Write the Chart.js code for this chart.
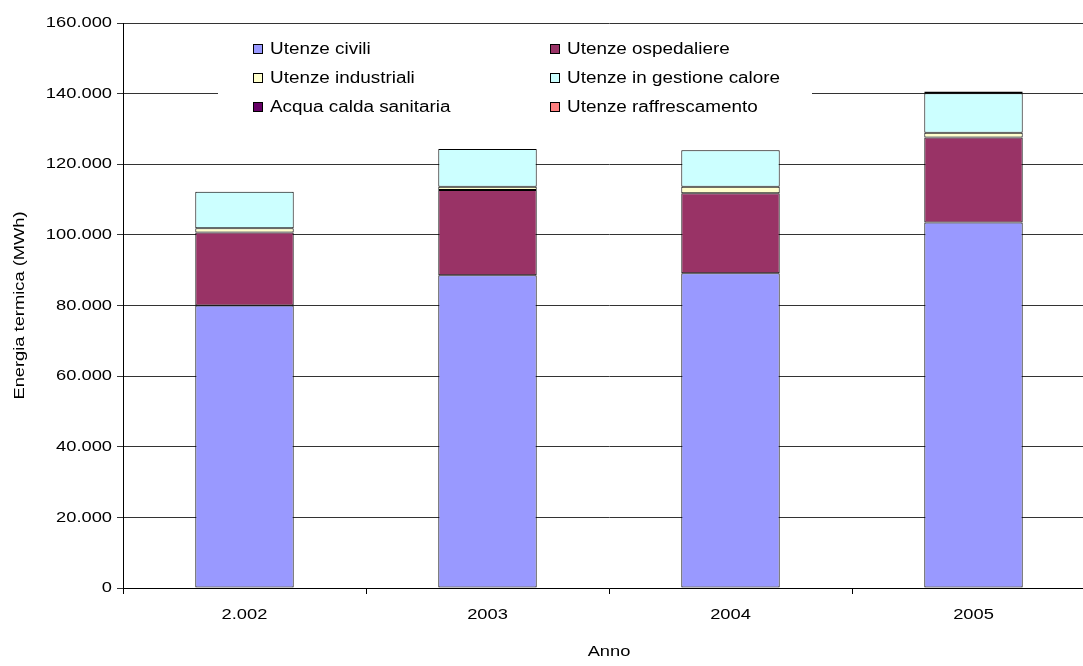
<!DOCTYPE html>
<html>
<head>
<meta charset="utf-8">
<script src="https://cdn.jsdelivr.net/npm/chart.js@4"></script>
<style>
html,body{margin:0;padding:0;background:#fff;overflow:hidden;}
#wrap{width:1083px;height:666px;position:relative;overflow:hidden;}
</style>
</head>
<body>
<div id="wrap"><canvas id="c" width="1095" height="666"></canvas></div>
<script>
const categories = ["2.002", "2003", "2004", "2005"];
const seriesNames = ["Utenze civili", "Utenze ospedaliere", "Utenze industriali", "Utenze in gestione calore", "Acqua calda sanitaria", "Utenze raffrescamento"];
const civili = [80000, 88600, 89100, 103500];
const ospedaliere = [20700, 24100, 22700, 24100];
const industriali = [1200, 900, 1800, 1300];
const gestioneCalore = [10300, 10700, 10400, 11200];
const acquaCalda = [0, 0, 0, 500];
const raffrescamento = [0, 0, 0, 0];
const seriesColors = ["#9999FF", "#993366", "#FFFFCC", "#CCFFFF", "#660066", "#FF8080"];
const yTicks = [0, 20000, 40000, 60000, 80000, 100000, 120000, 140000, 160000];

const FONT = "'Liberation Sans', Arial, sans-serif";
const fmt = v => String(v).replace(/\B(?=(\d{3})+(?!\d))/g, '.');

const seriesData = [civili, ospedaliere, industriali, gestioneCalore, acquaCalda, raffrescamento];
const datasets = seriesData.map((d, i) => ({
  label: seriesNames[i],
  data: d,
  backgroundColor: seriesColors[i],
  borderColor: '#000',
  borderWidth: 1,
  borderSkipped: false,
  categoryPercentage: 1,
  barPercentage: 0.405
}));

// Horizontally widened text, as in the reference rendering
const stretchPlugin = {
  id: 'stretchText',
  beforeDraw(chart) {
    const ctx = chart.ctx;
    if (ctx.__patched) return;
    const orig = ctx.fillText;
    ctx.fillText = function (text, x, y, maxWidth) {
      const sx = this.__sx || 1.22;
      this.save();
      this.translate(x, y);
      this.scale(sx, 1);
      if (maxWidth !== undefined) orig.call(this, text, 0, 0, maxWidth / sx);
      else orig.call(this, text, 0, 0);
      this.restore();
    };
    ctx.__patched = true;
  }
};

const legendPlugin = {
  id: 'boxLegend',
  afterDraw(chart) {
    const ctx = chart.ctx;
    ctx.save();
    ctx.fillStyle = '#fff';
    ctx.fillRect(218, 32, 594, 88);
    ctx.font = '16px ' + FONT;
    ctx.textBaseline = 'middle';
    ctx.textAlign = 'left';
    ctx.__sx = 1.18;
    const cols = [253, 550];
    const rows = [49, 78, 107];
    chart.data.datasets.forEach((ds, i) => {
      const x = cols[i % 2];
      const y = rows[Math.floor(i / 2)];
      ctx.fillStyle = ds.backgroundColor;
      ctx.fillRect(x + 0.5, y - 4.5, 9, 9);
      ctx.strokeStyle = '#000';
      ctx.lineWidth = 1;
      ctx.strokeRect(x + 0.5, y - 4.5, 9, 9);
      ctx.fillStyle = '#000';
      ctx.fillText(ds.label, x + 17, y + 1);
    });
    ctx.__sx = undefined;
    ctx.restore();
  }
};

new Chart(document.getElementById('c'), {
  type: 'bar',
  data: { labels: categories, datasets },
  plugins: [stretchPlugin, legendPlugin],
  options: {
    responsive: false,
    animation: false,
    layout: { padding: { left: 0, right: 0, top: 23, bottom: 0 } },
    plugins: { legend: { display: false }, tooltip: { enabled: false } },
    scales: {
      x: {
        stacked: true,
        grid: { offset: true, drawOnChartArea: false, drawTicks: true, tickLength: 6, color: '#000' },
        border: { display: true, color: '#000', width: 1 },
        ticks: { color: '#000', font: { family: FONT, size: 15 }, padding: 12, maxRotation: 0 },
        title: { display: true, text: 'Anno', color: '#000', font: { family: FONT, size: 15 }, padding: { top: 0, bottom: 5 } },
        afterFit(scale) { scale.height = 78; }
      },
      y: {
        stacked: true,
        min: 0,
        max: 160000,
        afterBuildTicks(scale) { scale.ticks = yTicks.map(v => ({ value: v })); },
        grid: { color: '#333', tickLength: 6, drawTicks: true },
        border: { display: true, color: '#000', width: 1 },
        ticks: { color: '#000', font: { family: FONT, size: 15 }, padding: 5, callback: v => fmt(v) },
        title: { display: true, text: 'Energia termica (MWh)', color: '#000', font: { family: FONT, size: 15 }, padding: { top: 11, bottom: 0 } },
        afterFit(scale) { scale.width = 123; }
      }
    }
  }
});
</script>
</body>
</html>
